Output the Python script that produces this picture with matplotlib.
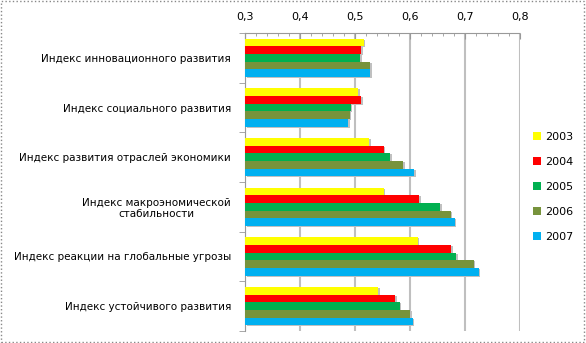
import matplotlib.pyplot as plt
import numpy as np
from matplotlib.ticker import FuncFormatter, MultipleLocator

# categories, top to bottom
categories = ['Индекс инновационного развития',
              'Индекс социального развития',
              'Индекс развития отраслей экономики',
              'Индекс макроэномической\nстабильности',
              'Индекс реакции на глобальные угрозы',
              'Индекс устойчивого развития']
years = ['2003', '2004', '2005', '2006', '2007']

# values per year (same order as categories)
v2003 = [0.516, 0.506, 0.526, 0.552, 0.614, 0.542]
v2004 = [0.511, 0.511, 0.552, 0.617, 0.675, 0.573]
v2005 = [0.509, 0.492, 0.564, 0.655, 0.684, 0.581]
v2006 = [0.527, 0.490, 0.587, 0.674, 0.716, 0.600]
v2007 = [0.527, 0.487, 0.607, 0.681, 0.725, 0.605]
series = [v2003, v2004, v2005, v2006, v2007]
colors = ['#FFFF00', '#FF0000', '#00B050', '#77933C', '#00B0F0']

fig = plt.figure(figsize=(5.86, 3.43), dpi=100)
ax = fig.add_axes([245/586, 1 - 331/343, 275/586, 298/343])

n = len(categories)
ypos = np.arange(n)
h = 0.155
for i, (vals, c) in enumerate(zip(series, colors)):
    y = ypos - 2*h + i*h
    # faint shadow
    ax.barh(y + 0.02, np.array(vals) - 0.3, left=0.303, height=h,
            color='#c0c0c0', zorder=2)
    ax.barh(y, np.array(vals) - 0.3, left=0.3, height=h, color=c,
            label=years[i], zorder=3)

ax.set_xlim(0.3, 0.8)
ax.set_ylim(n - 0.5, -0.5)
ax.xaxis.tick_top()
ax.xaxis.set_major_locator(MultipleLocator(0.1))
ax.xaxis.set_minor_locator(MultipleLocator(0.02))
ax.xaxis.set_major_formatter(FuncFormatter(lambda v, p: f'{v:.1f}'.replace('.', ',')))
ax.tick_params(axis='x', which='major', direction='in', length=4, color='#999999',
               labelsize=8, pad=8)
ax.tick_params(axis='x', which='minor', direction='in', length=2, color='#999999')
ax.grid(axis='x', which='major', color='#bfbfbf', linewidth=1.5, zorder=0)

ax.set_yticks(ypos)
ax.set_yticklabels(categories, fontsize=7.5, multialignment='center')
ax.set_yticks(np.arange(n + 1) - 0.5, minor=True)
ax.tick_params(axis='y', which='major', length=0, pad=10)
ax.tick_params(axis='y', which='minor', length=4, color='#999999')

for s in ['right', 'bottom']:
    ax.spines[s].set_visible(False)
ax.spines['top'].set_color('#999999')
ax.spines['top'].set_linestyle((0, (1, 1)))
ax.spines['left'].set_color('#999999')

handles, labels = ax.get_legend_handles_labels()
handles = [h_ for h_ in handles if h_.get_label() in years]
fig.legend(handles, years, loc='upper left', bbox_to_anchor=(523/586, 1 - 122/343),
           frameon=False, fontsize=8, handlelength=0.7, handleheight=0.7,
           labelspacing=1.35, handletextpad=0.4)

fig.patches.append(plt.Rectangle((0.002, 0.003), 0.994, 0.994, transform=fig.transFigure,
                                 fill=False, edgecolor='#888888', linestyle=':', linewidth=1))

fig.savefig('out.png', dpi=100)
